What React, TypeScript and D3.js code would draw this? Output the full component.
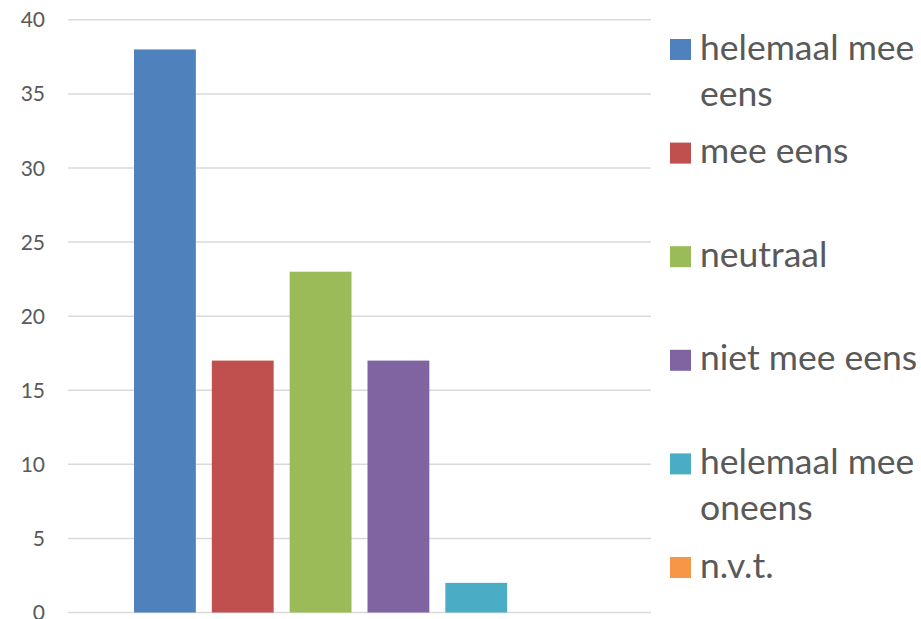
import React from "react";
import * as d3 from "d3";

const categories = ["Antwoord"];
const seriesNames = [
  "helemaal mee eens",
  "mee eens",
  "neutraal",
  "niet mee eens",
  "helemaal mee oneens",
  "n.v.t.",
];
const seriesValues = [38, 17, 23, 17, 2, 0];
const seriesColors = ["#4f81bd", "#c0504d", "#9bbb59", "#8064a2", "#4bacc6", "#f79646"];
const legendLines = [
  ["helemaal mee", "eens"],
  ["mee eens"],
  ["neutraal"],
  ["niet mee eens"],
  ["helemaal mee", "oneens"],
  ["n.v.t."],
];
const yTicks = [0, 5, 10, 15, 20, 25, 30, 35, 40];

const W = 921;
const H = 619;
const plot = { left: 68, right: 651, top: 19.8, bottom: 612.5 };
const FONT = "Lato, 'Open Sans', sans-serif";
const TEXT = "#595959";

export default function App() {
  const y = d3.scaleLinear().domain([0, 40]).range([plot.bottom, plot.top]);
  const x0 = d3.scaleBand<string>().domain(categories).range([plot.left, plot.right]);
  const groupPad = 66;
  const x1 = d3
    .scaleBand<string>()
    .domain(seriesNames)
    .range([groupPad, x0.bandwidth() - groupPad])
    .paddingInner(0.2055)
    .paddingOuter(0);

  const legendY = d3.scaleLinear().domain([0, 5]).range([39, 557]);

  return (
    <svg
      width={W}
      height={H}
      style={{ position: "absolute", left: 0, top: 0, background: "#fff" }}
      fontFamily={FONT}
    >
      <rect width={W} height={H} fill="#fff" />
      {yTicks.map((t) => (
        <g key={t}>
          <line
            x1={plot.left}
            x2={plot.right}
            y1={y(t)}
            y2={y(t)}
            stroke="#d9d9d9"
            strokeWidth={1.5}
          />
          <text
            x={45}
            y={y(t)}
            dy="0.36em"
            textAnchor="end"
            fontSize={21}
            fill={TEXT}
          >
            {t}
          </text>
        </g>
      ))}
      {categories.map((c) => (
        <g key={c} transform={`translate(${x0(c)},0)`}>
          {seriesNames.map((s, i) => (
            <rect
              key={s}
              x={x1(s)}
              width={x1.bandwidth()}
              y={y(seriesValues[i])}
              height={y(0) - y(seriesValues[i])}
              fill={seriesColors[i]}
            />
          ))}
        </g>
      ))}
      {seriesNames.map((s, i) => {
        const top = legendY(i);
        return (
          <g key={s}>
            <rect x={670} y={top} width={21} height={21} fill={seriesColors[i]} />
            <text x={700} y={top + 20.5} fontSize={35.5} fill={TEXT}>
              {legendLines[i].map((ln, j) => (
                <tspan key={j} x={700} dy={j === 0 ? 0 : 46}>
                  {ln}
                </tspan>
              ))}
            </text>
          </g>
        );
      })}
    </svg>
  );
}
